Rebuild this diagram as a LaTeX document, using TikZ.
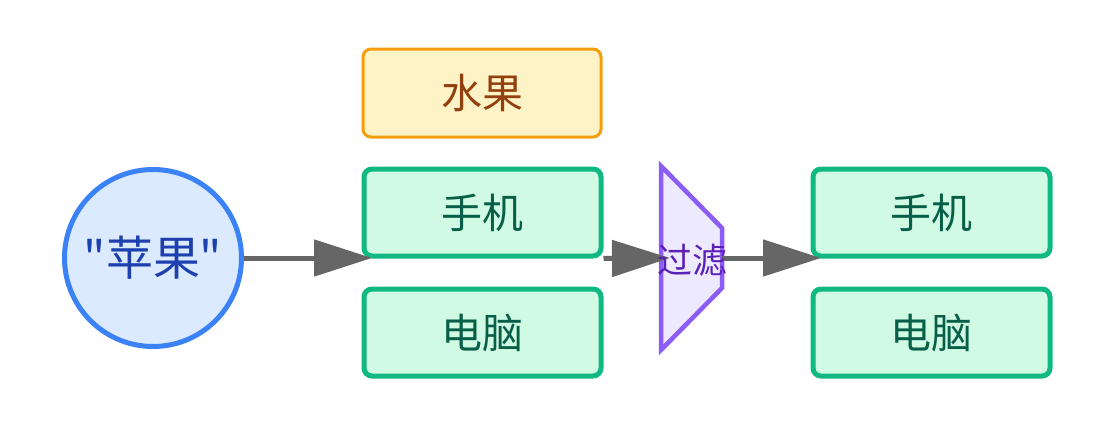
\documentclass[tikz,border=0pt]{standalone}
\usepackage{fontspec}
\setmainfont{Noto Sans CJK SC}[Ligatures=TeXOff]
\usetikzlibrary{arrows.meta}
\definecolor{cblue}{HTML}{3B82F6}
\definecolor{cbluef}{HTML}{DBEAFE}
\definecolor{cbluet}{HTML}{1E40AF}
\definecolor{corange}{HTML}{F59E0B}
\definecolor{corangef}{HTML}{FEF3C7}
\definecolor{coranget}{HTML}{92400E}
\definecolor{cgreen}{HTML}{10B981}
\definecolor{cgreenf}{HTML}{D1FAE5}
\definecolor{cgreent}{HTML}{065F46}
\definecolor{cpurple}{HTML}{8B5CF6}
\definecolor{cpurplef}{HTML}{EDE9FE}
\definecolor{cpurplet}{HTML}{5B21B6}
\definecolor{cgray}{HTML}{666666}
\tikzset{
  applenode/.style={circle, draw=cblue, fill=cbluef, line width=5pt, minimum size=177pt, inner sep=0pt, text=cbluet, font=\fontsize{47}{52}\selectfont},
  catbox/.style={rectangle, rounded corners=8pt, draw=corange, fill=corangef, line width=3pt, minimum width=238pt, minimum height=88pt, inner sep=0pt, text=coranget, font=\fontsize{41}{46}\selectfont},
  itembox/.style={rectangle, rounded corners=8pt, draw=cgreen, fill=cgreenf, line width=5pt, minimum width=237pt, minimum height=87pt, inner sep=0pt, text=cgreent, font=\fontsize{41}{46}\selectfont},
  filtershape/.style={draw=cpurple, fill=cpurplef, line width=4.5pt},
  filtertext/.style={text=cpurplet, font=\fontsize{35}{40}\selectfont, inner sep=0pt},
  conn/.style={draw=cgray, line width=5pt, -{Triangle[length=58pt,width=36pt]}}
}
\begin{document}
\begin{tikzpicture}[x=1pt,y=-1pt]
\useasboundingbox (0,0) rectangle (1120,434);
\node[applenode] (apple) at (153,258) {"苹果"};
\node[catbox] (fruit) at (482,93) {水果};
\node[itembox] (phone1) at (482.5,212.5) {手机};
\node[itembox] (pc1) at (482.5,332.5) {电脑};
\node[itembox] (phone2) at (931.5,212.5) {手机};
\node[itembox] (pc2) at (931.5,332.5) {电脑};
\coordinate (fr) at (722,258);
\path[filtershape] (661,166) -- (722,228) -- (722,288) -- (661,350) -- cycle;
\coordinate (t1) at (372,258);
\coordinate (t2) at (670,258);
\coordinate (t3) at (821,258);
\draw[conn] (apple.east) -- (t1);
\draw[conn] (phone1.south east) -- (t2);
\draw[conn] (fr) -- (t3);
\node[filtertext] (filter) at (692,260) {过滤};
\end{tikzpicture}
\end{document}
